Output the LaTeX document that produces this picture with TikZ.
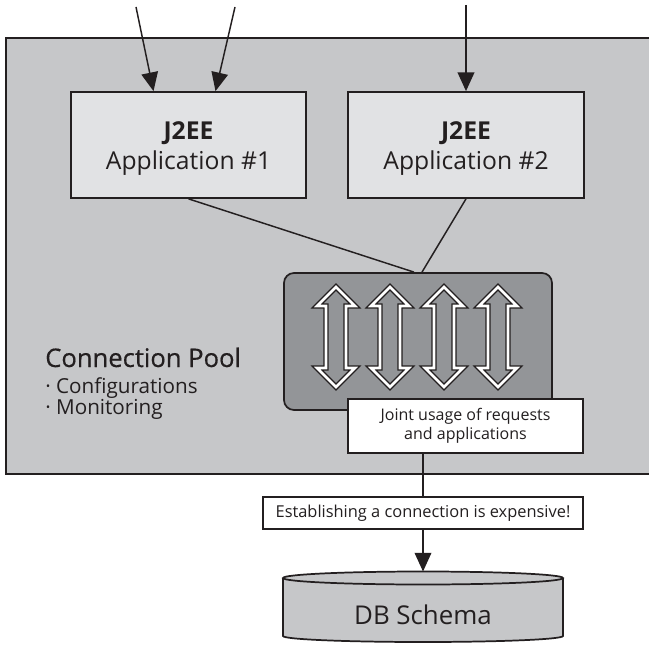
\documentclass[tikz,border=0pt]{standalone}
\usepackage{fontspec}
\setmainfont{Open Sans}
\newfontfamily\mediumface{Open Sans}[FakeBold=0.45]
\usetikzlibrary{arrows.meta,calc}
\definecolor{framegray}{HTML}{C6C7C9}
\definecolor{appgray}{HTML}{E1E2E4}
\definecolor{poolgray}{HTML}{939598}
\definecolor{ink}{HTML}{231F20}

\begin{document}
\begin{tikzpicture}[x=0.75pt,y=-0.75pt,line join=miter,
  every node/.style={text=ink,inner sep=0pt},
  appbox/.style={draw=ink,line width=1.3pt,fill=appgray,minimum width=176.25pt,
    minimum height=79.5pt,align=center,font=\fontsize{18.5}{22.5}\selectfont},
  labelbox/.style={draw=ink,line width=1.1pt,fill=white,align=center},
  link/.style={draw=ink,line width=1.1pt},
  flow/.style={link,-{Triangle[length=14pt,width=12.5pt]}},
  duplex/.style={draw=ink,line width=1.05pt,double=white,double distance=1.9pt,fill=poolgray},
  cyl/.style={draw=ink,line width=1.3pt,fill=framegray},
]
\useasboundingbox (0,0) rectangle (649,645);

% application server frame (runs off the right edge)
\begin{scope}
  \clip (0,0) rectangle (649,645);
  \draw[draw=ink,line width=1.3pt,fill=framegray] (6,38) rectangle (680,474);
\end{scope}

% applications
\node[appbox] (app1) at (188.5,145) {\rule{0pt}{19pt}\textbf{J2EE}\\Application \#1};
\node[appbox,minimum width=177pt] (app2) at (466,145) {\rule{0pt}{19pt}\textbf{J2EE}\\Application \#2};

% incoming requests
\coordinate (src1) at (136,7);
\coordinate (src2) at (235,7);
\coordinate (src3) at (466,5);
\draw[flow] (src1) -- ($(app1.north)+(-35,0)$);
\draw[flow] (src2) -- ($(app1.north)+(27,0)$);
\draw[flow] (src3) -- (app2.north);

% connection pool
\node[draw=ink,line width=1.3pt,fill=poolgray,rounded corners=7.5pt,
  minimum width=201pt,minimum height=102.75pt] (pool) at (418,341.5) {};
\draw[link] (app1.south) -- ($(pool.north)+(-4,0)$);
\draw[link] (app2.south) -- ($(pool.north)+(4,0)$);

% pooled connections
\foreach \c in {336,390,444,498}{
  \draw[duplex] (\c,287) -- (\c+19,306) -- (\c+10,306) -- (\c+10,368) -- (\c+19,368)
    -- (\c,387) -- (\c-19,368) -- (\c-10,368) -- (\c-10,306) -- (\c-19,306) -- cycle;
}

\node[labelbox,minimum width=176.25pt,minimum height=40.5pt,
  font=\fontsize{12}{14.25}\selectfont] (joint) at (465.5,426)
  {Joint usage of requests\\and applications};

% pool description
\node[anchor=base west,font=\mediumface\fontsize{19.2}{23}\selectfont] (cptitle) at (45,367) {Connection Pool};
\node[anchor=base west,font=\fontsize{15.5}{18}\selectfont] (cpconf) at (45,393) {· Configurations};
\node[anchor=base west,font=\fontsize{15.5}{18}\selectfont] (cpmon) at (45,414) {· Monitoring};

% database
\node[labelbox,minimum width=240pt,minimum height=24pt,
  font=\fontsize{12.3}{15}\selectfont] (estab) at (423,513)
  {Establishing a connection is expensive!};

\fill[framegray] (283,578) -- (283,636) arc[start angle=180,end angle=0,x radius=140,y radius=6]
  -- (563,578) -- cycle;
\draw[draw=ink,line width=1.3pt] (283,578) -- (283,636)
  arc[start angle=180,end angle=0,x radius=140,y radius=6] -- (563,578);
\draw[cyl] (423,578) ellipse[x radius=140,y radius=6.5];
\coordinate (dbtop) at (423,571.5);
\node[anchor=base,font=\fontsize{19.4}{23}\selectfont] (db) at (423,624) {DB Schema};

\draw[link] (estab.north |- joint.south) -- (estab.north);
\draw[flow] (estab.south) -- (dbtop);
\end{tikzpicture}
\end{document}
